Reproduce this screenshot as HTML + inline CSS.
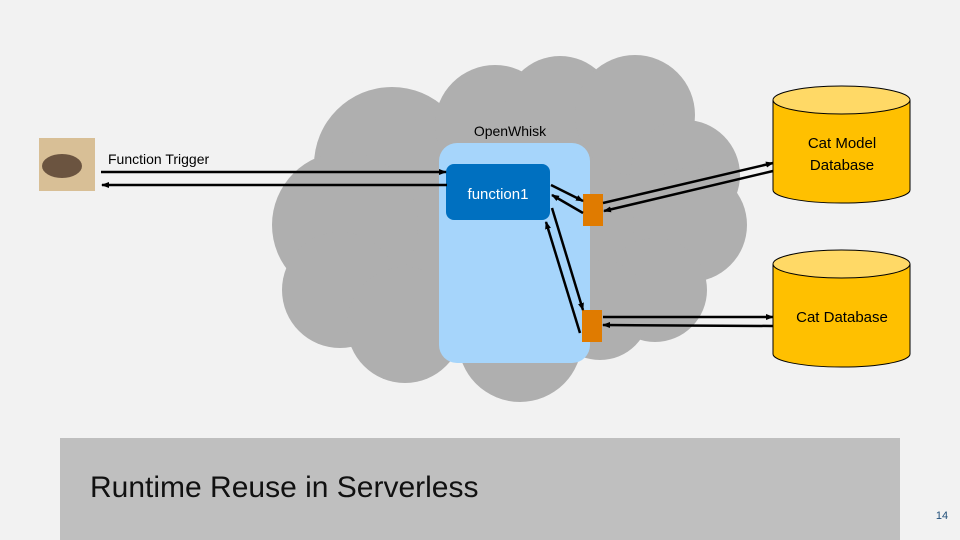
<!DOCTYPE html>
<html><head><meta charset="utf-8"><style>
body{margin:0;background:#f2f2f2;}
svg{display:block;font-family:"Liberation Sans",sans-serif;}
</style></head><body>
<svg width="960" height="540" viewBox="0 0 960 540">
<defs><marker id="a" markerWidth="8" markerHeight="8" refX="7" refY="4" orient="auto" markerUnits="userSpaceOnUse"><path d="M0,1 L8,4 L0,7z" fill="#000"/></marker></defs>
<rect width="960" height="540" fill="#f2f2f2"/>
<g fill="#afafaf">
<ellipse cx="510" cy="230" rx="200" ry="130"/>
<circle cx="392" cy="165" r="78"/>
<circle cx="495" cy="125" r="60"/>
<circle cx="560" cy="112" r="56"/>
<circle cx="635" cy="115" r="60"/>
<circle cx="685" cy="175" r="55"/>
<circle cx="690" cy="225" r="57"/>
<circle cx="655" cy="290" r="52"/>
<circle cx="520" cy="340" r="62"/>
<circle cx="345" cy="225" r="73"/>
<circle cx="340" cy="290" r="58"/>
<circle cx="405" cy="325" r="58"/>
<circle cx="600" cy="310" r="50"/>
</g>
<rect x="439" y="143" width="151" height="220" rx="18" fill="#a6d5fb"/>
<rect x="446" y="164" width="104" height="56" rx="8" fill="#0070c0"/>
<text x="498" y="199" fill="#fff" font-size="15" text-anchor="middle">function1</text>
<text x="510" y="136" font-size="14" text-anchor="middle">OpenWhisk</text>
<rect x="583" y="194" width="20" height="32" fill="#e07b00"/>
<rect x="582" y="310" width="20" height="32" fill="#e07b00"/>
<rect x="39" y="138" width="56" height="53" fill="#d8bf96"/>
<ellipse cx="62" cy="166" rx="20" ry="12" fill="#6b5440"/>
<text x="108" y="164" font-size="14">Function Trigger</text>
<g stroke="#000" stroke-width="2.5" fill="none">
<line x1="101" y1="172" x2="446" y2="172" marker-end="url(#a)"/>
<line x1="447" y1="185" x2="102" y2="185" marker-end="url(#a)"/>
<line x1="551" y1="185" x2="583" y2="201" marker-end="url(#a)"/>
<line x1="583" y1="213" x2="552" y2="195" marker-end="url(#a)"/>
<line x1="552" y1="208" x2="583" y2="310" marker-end="url(#a)"/>
<line x1="580" y1="333" x2="546" y2="222" marker-end="url(#a)"/>
<line x1="603" y1="203" x2="773" y2="163" marker-end="url(#a)"/>
<line x1="773" y1="171" x2="604" y2="211" marker-end="url(#a)"/>
<line x1="603" y1="317" x2="773" y2="317" marker-end="url(#a)"/>
<line x1="773" y1="326" x2="603" y2="325" marker-end="url(#a)"/>
</g>
<g stroke="#000" stroke-width="1">
<path d="M773,100 V190 A68.5,13 0 0 0 910,190 V100" fill="#ffc000"/>
<ellipse cx="841.5" cy="100" rx="68.5" ry="14" fill="#ffd966"/>
<path d="M773,264 V354 A68.5,13 0 0 0 910,354 V264" fill="#ffc000"/>
<ellipse cx="841.5" cy="264" rx="68.5" ry="14" fill="#ffd966"/>
</g>
<text x="842" y="148" font-size="15" text-anchor="middle">Cat Model</text>
<text x="842" y="170" font-size="15" text-anchor="middle">Database</text>
<text x="842" y="322" font-size="15" text-anchor="middle">Cat Database</text>
<rect x="60" y="438" width="840" height="102" fill="#bfbfbf"/>
<text x="90" y="497" font-size="30" fill="#111">Runtime Reuse in Serverless</text>
<text x="942" y="519" font-size="11" fill="#1f4e79" text-anchor="middle">14</text>
</svg>
</body></html>
